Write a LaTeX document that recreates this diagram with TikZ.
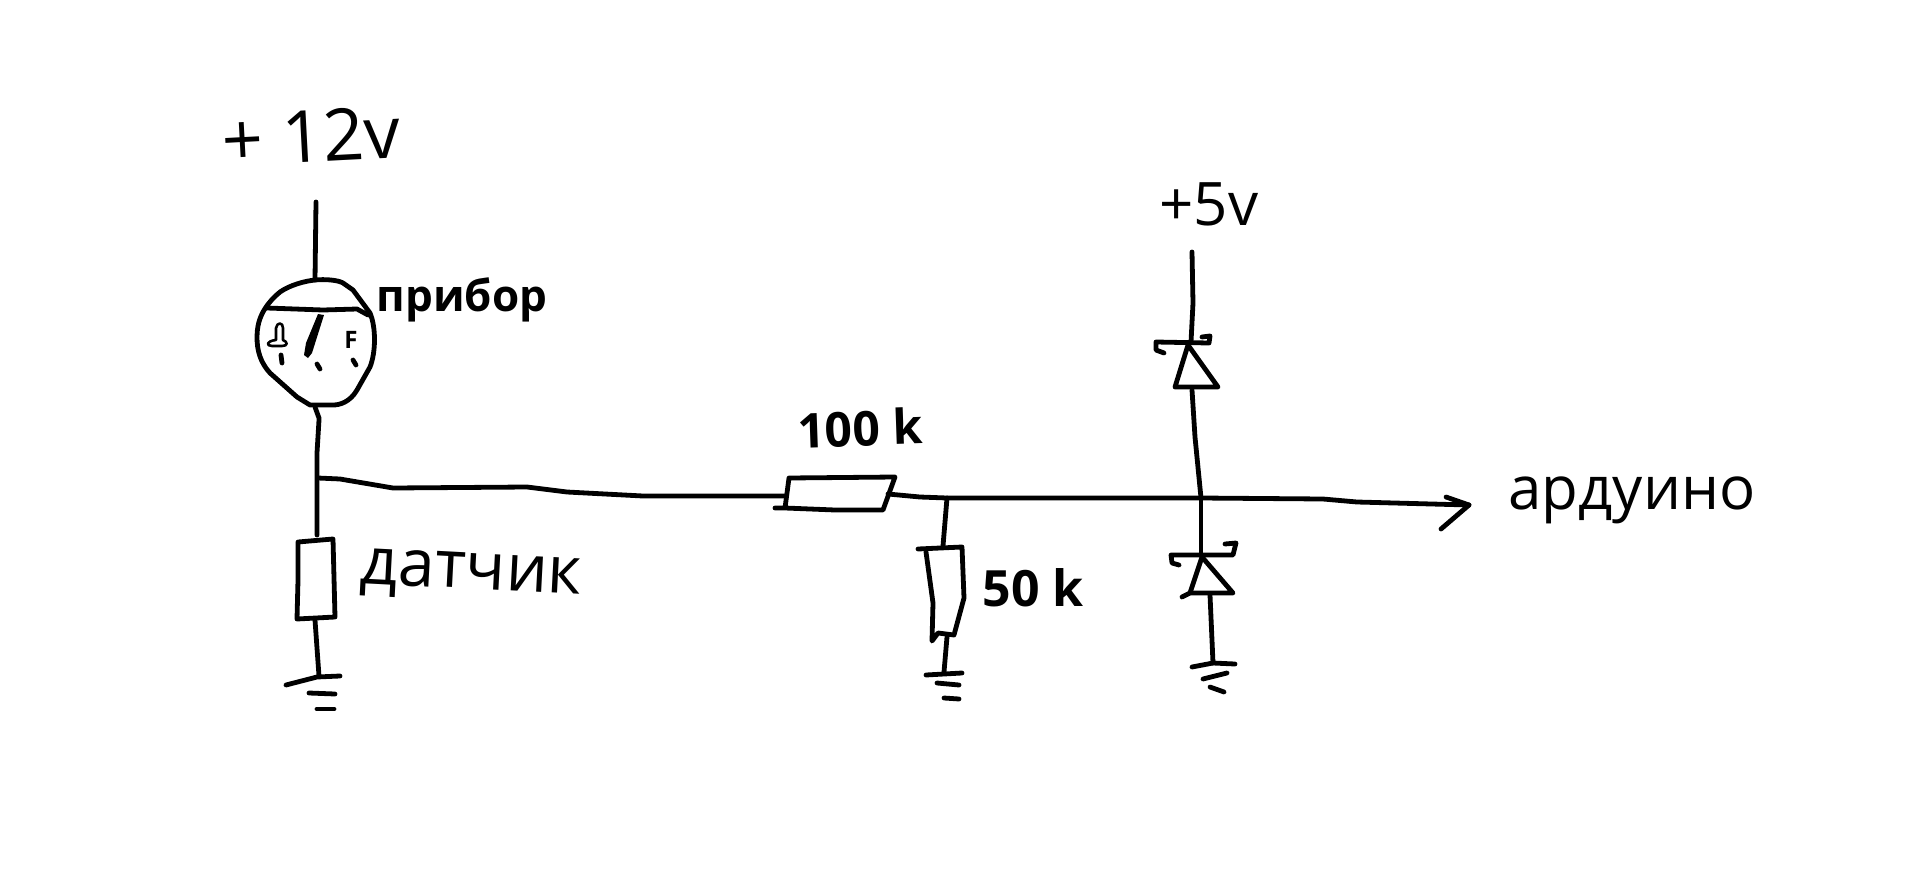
\documentclass[tikz,border=0pt]{standalone}
\usepackage{fontspec}
\setmainfont{Open Sans}
\usepackage{tikz}
\usetikzlibrary{calc}
\tikzset{
    wire/.style={line width=4.8pt, line cap=round, line join=round},
    thinwire/.style={line width=2.6pt, line cap=round, line join=round},
    hand/.style={inner sep=0pt, anchor=center}
}
\newcommand{\handfont}[1]{\fontsize{#1}{#1}\selectfont}

\begin{document}
\begin{tikzpicture}[x=1pt,y=-1pt]
            \path[use as bounding box] (0,0) rectangle (1917,881);
            \fill[white] (0,0) rectangle (1917,881);

            \coordinate (T12) at (316,202);
            \coordinate (MT) at (315,280);
            \coordinate (MB) at (315,407);
            \coordinate (J1) at (318,478);
            \coordinate (S1) at (317,535);
            \coordinate (S2) at (315,620);
            \coordinate (G1) at (319,676);
            \coordinate (R1a) at (785,496);
            \coordinate (R1b) at (888,494);
            \coordinate (J2) at (947,498);
            \coordinate (J3) at (1201,498);
            \coordinate (T5) at (1192,252);
            \coordinate (R2a) at (943,546);
            \coordinate (R2b) at (947,637);
            \coordinate (G2) at (944,672);
            \coordinate (G3) at (1213,663);
            \coordinate (Tip) at (1469,505);

            \node[hand, rotate=3] (n12) at (311,136) {\handfont{72}+ 12v};
            \node[hand] (n5) at (1209,204) {\handfont{60}+5v};
            \node[hand] (npribor) at (462,300) {\handfont{44}\bfseries прибор};
            \node[hand, rotate=-3] (ndatchik) at (471,577) {\handfont{66}датчик};
            \node[hand, rotate=2] (n100) at (860,428) {\handfont{48}\bfseries 100 k};
            \node[hand] (n50) at (1033,588) {\handfont{50}\bfseries 50 k};
            \node[hand] (nard) at (1632,500) {\handfont{60}ардуино};
            \node[hand] (nF) at (351,340) {\handfont{24}\bfseries F};

            \draw[wire] (T12) -- (MT);
            \draw[wire] (315,280) .. controls (325,279) and (338,280) .. (343,283)
                -- (353,290) -- (370,313) .. controls (376,327) and (376,352) .. (370,367)
                -- (357,390) .. controls (350,402) and (340,405) .. (333,405)
                -- (310,405) -- (297,397) -- (270,373) .. controls (260,362) and (257,350) .. (257,337)
                .. controls (257,322) and (262,307) .. (280,292) .. controls (290,285) and (305,281) .. (315,280);
            \draw[wire] (267,308) -- (323,310) -- (357,309) -- (368,315);
            \fill (318,314) -- (324,315) -- (312,353) -- (308,358) -- (304,355) -- (306,343) -- cycle;
            \draw[wire] (281,355) -- (282,363);
            \draw[wire] (317,364) -- (320,369);
            \draw[wire] (353,360) -- (356,365);
            \draw[thinwire] (276,340) -- (276,328) .. controls (277,322) and (283,322) .. (283,328)
                -- (283,340) .. controls (288,342) and (288,346) .. (282,346) -- (272,346)
                .. controls (266,346) and (266,341) .. (276,340);

            \draw[wire] (MB) -- (319,418) -- (319,420) -- (317,453) -- (S1);
            \draw[wire] (J1) -- (340,479) -- (393,488) -- (527,487) -- (567,492) -- (643,496) -- (700,496) -- (R1a);
            \draw[wire] (298,542) -- (333,539) -- (335,617) -- (297,619) -- (298,580) -- cycle;
            \draw[wire] (S2) -- (G1);
            \draw[wire] (286,685) -- (317,677) -- (340,676);
            \draw[wire] (309,693) -- (335,694);
            \draw[wire] (317,709) -- (334,709);

            \draw[wire] (775,508) -- (785,508) -- (789,478) -- (895,477) -- (883,510) -- (835,510) -- (785,508);
            \draw[wire] (R1b) -- (920,497) -- (J2) -- (980,498) -- (J3) -- (1323,499) -- (1357,502) -- (Tip);
            \draw[wire] (1446,497) -- (Tip) -- (1441,529);

            \draw[wire] (J2) -- (R2a);
            \draw[wire] (918,549) -- (962,547) -- (964,598) -- (954,635) -- (938,633) -- (932,641) -- (933,603) -- (926,552);
            \draw[wire] (R2b) -- (G2);
            \draw[wire] (926,675) -- (962,673);
            \draw[wire] (937,683) -- (959,685);
            \draw[wire] (944,698) -- (959,699);

            \draw[wire] (T5) -- (1193,303) -- (1191,342);
            \draw[wire] (1164,353) -- (1156,350) -- (1156,342) -- (1209,343) -- (1210,336) -- (1202,337);
            \draw[wire] (1188,345) -- (1175,387) -- (1218,387) -- cycle;
            \draw[wire] (1192,390) -- (1195,437) -- (J3);

            \draw[wire] (J3) -- (1201,553);
            \draw[wire] (1179,565) -- (1172,563) -- (1171,555) -- (1233,555) -- (1236,543) -- (1225,544);
            \draw[wire] (1202,557) -- (1233,593) -- (1190,593) -- (1182,597);
            \draw[wire] (1202,557) -- (1190,593);
            \draw[wire] (1210,595) -- (G3);
            \draw[wire] (1192,667) -- (G3) -- (1235,664);
            \draw[wire] (1203,679) -- (1227,673);
            \draw[wire] (1210,687) -- (1224,692);
        \end{tikzpicture}
\end{document}
